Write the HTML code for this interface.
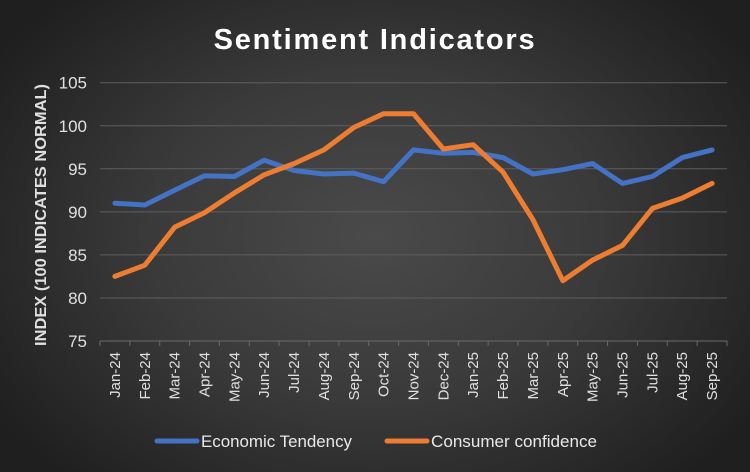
<!DOCTYPE html>
<html><head><meta charset="utf-8"><style>
html,body{margin:0;padding:0;width:750px;height:472px;overflow:hidden;}
body{background:radial-gradient(ellipse 60% 70% at 50% 50%,#4a4a4a 0%,#3a3a3a 50%,#1f1f1f 100%);font-family:"Liberation Sans",sans-serif;}
</style></head><body>
<svg id="chart" width="750" height="472">
<text x="375" y="49" text-anchor="middle" fill="#fff" font-size="29" font-weight="bold" letter-spacing="1.8">Sentiment Indicators</text>
<text transform="translate(46,215) rotate(-90)" text-anchor="middle" fill="#e0e0e0" font-size="16" font-weight="bold" textLength="262" lengthAdjust="spacingAndGlyphs">INDEX (100 INDICATES NORMAL)</text>
<g id="grid"></g><g id="yt"></g><g id="xt"></g><g id="lines"></g>
<g>
<line x1="157" y1="441" x2="197" y2="441" stroke="#4472c4" stroke-width="5" stroke-linecap="round"/>
<text x="201" y="447" fill="#e8e8e8" font-size="17" textLength="151" lengthAdjust="spacingAndGlyphs">Economic Tendency</text>
<line x1="387" y1="441" x2="427" y2="441" stroke="#ed7d31" stroke-width="5" stroke-linecap="round"/>
<text x="431" y="447" fill="#e8e8e8" font-size="17" textLength="166" lengthAdjust="spacingAndGlyphs">Consumer confidence</text>
</g>
</svg>
<script>
const categories=["Jan-24","Feb-24","Mar-24","Apr-24","May-24","Jun-24","Jul-24","Aug-24","Sep-24","Oct-24","Nov-24","Dec-24","Jan-25","Feb-25","Mar-25","Apr-25","May-25","Jun-25","Jul-25","Aug-25","Sep-25"];
const economicTendency=[91,90.8,92.5,94.2,94.1,96,94.8,94.4,94.5,93.5,97.2,96.8,96.9,96.3,94.4,94.9,95.6,93.3,94.1,96.3,97.2];
const consumerConfidence=[82.5,83.8,88.2,89.9,92.2,94.3,95.6,97.2,99.8,101.4,101.4,97.3,97.8,94.6,89.1,82.0,84.4,86.1,90.4,91.6,93.3];
const yTicks=[75,80,85,90,95,100,105];
const NS="http://www.w3.org/2000/svg";
const x0=100,x1=727,yBot=341,yTop=82.7,vMin=75,vMax=105;
const bw=(x1-x0)/categories.length;
function xs(i){return x0+bw*(i+0.5);}
function ys(v){return yBot-(v-vMin)/(vMax-vMin)*(yBot-yTop);}
function mk(tag,attrs,parent){const e=document.createElementNS(NS,tag);for(const k in attrs)e.setAttribute(k,attrs[k]);document.getElementById(parent).appendChild(e);return e;}
yTicks.forEach(t=>{
  if(t>vMin){const g=mk('line',{x1:x0,x2:x1,y1:ys(t),y2:ys(t),stroke:'#5e5e5e','stroke-width':1},'grid');
  
  }
  const l=mk('text',{x:87,y:ys(t)+6,'text-anchor':'end',fill:'#e0e0e0','font-size':17},'yt');
  l.textContent=t;
  
  
});
const ax=mk('line',{x1:x0,x2:x1,y1:yBot,y2:yBot,stroke:'#6a6a6a','stroke-width':1},'grid');


for(let i=0;i<=categories.length;i++){const tk=mk('line',{x1:x0+bw*i,x2:x0+bw*i,y1:yBot,y2:yBot+5,stroke:'#6a6a6a'},'grid');

}
categories.forEach((c,i)=>{
  const t=mk('text',{transform:`translate(${xs(i)+5},352) rotate(-90)`,'text-anchor':'end',fill:'#e0e0e0','font-size':15},'xt');
  t.textContent=c;
  
  
});
function line(vals,color,name){
  const d=vals.map((v,i)=>(i?'L':'M')+xs(i).toFixed(1)+','+ys(v).toFixed(1)).join(' ');
  const p=mk('path',{d:d,fill:'none',stroke:color,'stroke-width':5,'stroke-linejoin':'round','stroke-linecap':'round'},'lines');
  
  
}
line(economicTendency,'#4472c4','economic-tendency-line');
line(consumerConfidence,'#ed7d31','consumer-confidence-line');
</script>
</body></html>
